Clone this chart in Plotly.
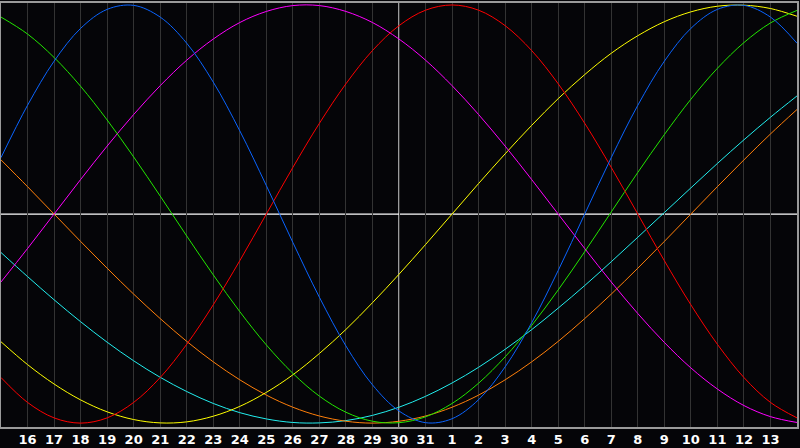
import plotly.graph_objects as go

# day positions (0 = the 16th); one extra day on each side of the labelled range
day_index = list(range(-1, 30))
tick_index = list(range(0, 29))
tick_labels = ["16", "17", "18", "19", "20", "21", "22", "23", "24", "25", "26", "27",
               "28", "29", "30", "31", "1", "2", "3", "4", "5", "6", "7", "8", "9",
               "10", "11", "12", "13"]
today_index = 14  # the "30"

# values, one per day from day_index[0] to day_index[-1]
physical = [0.270, 0.520, 0.731, 0.888, 0.979, 0.998, 0.942, 0.817, 0.631, 0.398, 0.136,
            -0.136, -0.398, -0.631, -0.817, -0.942, -0.998, -0.979, -0.888, -0.731, -0.520,
            -0.270, 0.0, 0.270, 0.520, 0.731, 0.888, 0.979, 0.998, 0.942, 0.817]
emotional = [-0.782, -0.901, -0.975, -1.000, -0.975, -0.901, -0.782, -0.623, -0.434, -0.223,
             0.0, 0.223, 0.434, 0.623, 0.782, 0.901, 0.975, 1.000, 0.975, 0.901, 0.782,
             0.623, 0.434, 0.223, 0.0, -0.223, -0.434, -0.623, -0.782, -0.901, -0.975]
intellectual = [0.942, 0.861, 0.749, 0.611, 0.450, 0.273, 0.086, -0.105, -0.291, -0.467,
                -0.626, -0.762, -0.871, -0.948, -0.991, -0.998, -0.970, -0.906, -0.809,
                -0.683, -0.533, -0.363, -0.180, 0.010, 0.199, 0.380, 0.549, 0.697, 0.820,
                0.914, 0.974]
intuitive = [-0.325, -0.165, 0.0, 0.165, 0.325, 0.476, 0.614, 0.736, 0.837, 0.916, 0.969,
             0.997, 0.997, 0.969, 0.916, 0.837, 0.736, 0.614, 0.476, 0.325, 0.165, 0.0,
             -0.165, -0.325, -0.476, -0.614, -0.736, -0.837, -0.916, -0.969, -0.997]
aesthetic = [-0.611, -0.720, -0.813, -0.889, -0.946, -0.983, -0.999, -0.994, -0.967, -0.920,
             -0.853, -0.769, -0.667, -0.552, -0.424, -0.288, -0.146, 0.0, 0.146, 0.288,
             0.424, 0.552, 0.667, 0.769, 0.853, 0.920, 0.967, 0.994, 0.999, 0.983, 0.946]
awareness = [0.259, 0.131, 0.0, -0.131, -0.259, -0.383, -0.500, -0.609, -0.707, -0.793,
             -0.866, -0.924, -0.966, -0.991, -1.000, -0.991, -0.966, -0.924, -0.866, -0.793,
             -0.707, -0.609, -0.500, -0.383, -0.259, -0.131, 0.0, 0.131, 0.259, 0.383, 0.500]
spiritual = [-0.184, -0.299, -0.410, -0.515, -0.613, -0.702, -0.781, -0.849, -0.906, -0.950,
             -0.980, -0.997, -0.999, -0.988, -0.963, -0.924, -0.872, -0.808, -0.733, -0.647,
             -0.553, -0.450, -0.342, -0.228, -0.111, 0.007, 0.125, 0.242, 0.355, 0.463, 0.565]

series = [
    ("Spiritual", spiritual, "#22eeee"),
    ("Awareness", awareness, "#ff7f0a"),
    ("Aesthetic", aesthetic, "#ffff00"),
    ("Intuitive", intuitive, "#ff00ff"),
    ("Intellectual", intellectual, "#22e600"),
    ("Emotional", emotional, "#ff0000"),
    ("Physical", physical, "#0a64ff"),
]

bg = "#050508"
fig = go.Figure()
for name, vals, col in series:
    fig.add_trace(go.Scatter(x=day_index, y=vals, mode="lines", name=name,
                             line=dict(color=col, width=1, shape="spline", smoothing=1.0),
                             hoverinfo="skip"))

# white centre lines
fig.add_shape(type="line", xref="x", yref="paper", x0=today_index, x1=today_index, y0=0, y1=1,
              line=dict(color="#ffffff", width=1.2), layer="below")
fig.add_shape(type="line", xref="paper", yref="y", x0=0, x1=1, y0=0, y1=0,
              line=dict(color="#ffffff", width=1.2), layer="below")

fig.update_layout(
    width=800, height=448,
    margin=dict(l=1, r=1, t=1, b=20),
    paper_bgcolor=bg, plot_bgcolor=bg,
    showlegend=False,
    xaxis=dict(range=[day_index[0], day_index[-1]], tickmode="array", tickvals=tick_index,
               ticktext=tick_labels, showgrid=True, gridcolor="#333333", gridwidth=1,
               zeroline=False, showline=True, linecolor="#9a9a9a", linewidth=1.5, mirror=True,
               ticks="", ticklen=0,
               tickfont=dict(family="DejaVu Sans", size=13, color="#ffffff", weight="bold")),
    yaxis=dict(range=[-1.0186, 1.0094], showgrid=False, zeroline=False, showticklabels=False,
               showline=True, linecolor="#9a9a9a", linewidth=1.5, mirror=True, ticks=""),
)

fig.write_html("out.html", config={"displayModeBar": False},
               post_script="document.body.style.margin='0';document.body.style.background='#050508';")
